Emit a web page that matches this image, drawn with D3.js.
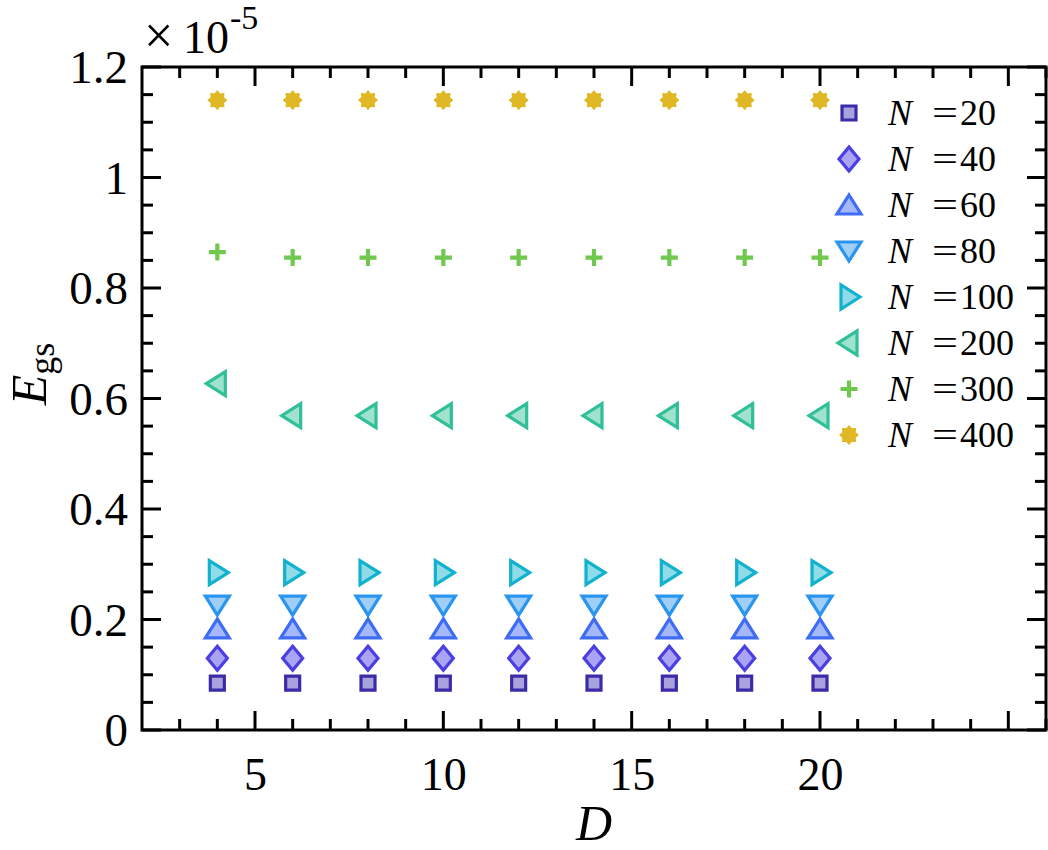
<!DOCTYPE html>
<html><head><meta charset="utf-8">
<script src="https://cdn.jsdelivr.net/npm/d3@7"></script>
<style>body{margin:0;background:#fff}svg{display:block}text{font-family:"Liberation Serif","Times New Roman",serif;fill:#000}</style>
</head><body>
<script>
const dValues = [4, 6, 8, 10, 12, 14, 16, 18, 20];
const seriesNames = ["20", "40", "60", "80", "100", "200", "300", "400"];
const e20  = [0.085, 0.085, 0.085, 0.085, 0.085, 0.085, 0.085, 0.085, 0.085];
const e40  = [0.130, 0.130, 0.130, 0.130, 0.130, 0.130, 0.130, 0.130, 0.130];
const e60  = [0.183, 0.183, 0.183, 0.183, 0.183, 0.183, 0.183, 0.183, 0.183];
const e80  = [0.226, 0.226, 0.226, 0.226, 0.226, 0.226, 0.226, 0.226, 0.226];
const e100 = [0.285, 0.285, 0.285, 0.285, 0.285, 0.285, 0.285, 0.285, 0.285];
const e200 = [0.627, 0.569, 0.569, 0.569, 0.569, 0.569, 0.569, 0.569, 0.569];
const e300 = [0.865, 0.855, 0.855, 0.855, 0.855, 0.855, 0.855, 0.855, 0.855];
const e400 = [1.140, 1.140, 1.140, 1.140, 1.140, 1.140, 1.140, 1.140, 1.140];
const allSeries = [e20, e40, e60, e80, e100, e200, e300, e400];
const xTickLabels = [5, 10, 15, 20];
const yTickLabels = ["0", "0.2", "0.4", "0.6", "0.8", "1", "1.2"];
const yTickValues = [0, 0.2, 0.4, 0.6, 0.8, 1.0, 1.2];

const colors = ["#3b2ba8", "#4a3fe3", "#3f6cf5", "#2a95ee", "#12b2cf", "#30bf98", "#70c94e", "#e0b825"];
const fills  = ["#a9a3dd", "#a9a4f3", "#a4b8fa", "#9fcff7", "#90dbe8", "#9fe2cd", "#70c94e", "#e0b825"];
const shapes = ["square", "diamond", "up", "down", "right", "left", "plus", "star"];

const W = 1048, H = 850;
const L = 142, R = 1046, T = 67, B = 730;
const svg = d3.select("body").append("svg").attr("width", W).attr("height", H);
const x = d3.scaleLinear().domain([2, 26]).range([L, R]);
const y = d3.scaleLinear().domain([0, 1.2]).range([B, T]);

function shapePath(s) {
  switch (s) {
    case "square": return "M-7,-7H7V7H-7Z";
    case "diamond": return "M0,-12L10,0L0,12L-10,0Z";
    case "up": return "M0,-10L12,9H-12Z";
    case "down": return "M0,10L12,-9H-12Z";
    case "right": return "M11,0L-8,12V-12Z";
    case "left": return "M-11,0L8,12V-12Z";
    case "plus": return "M-8.5,0H8.5M0,-8.5V8.5";
    case "star": {
      let p = [];
      for (let i = 0; i < 16; i++) {
        const r = i % 2 === 0 ? 9 : 6.4;
        const a = Math.PI * i / 8 - Math.PI / 2;
        p.push([r * Math.cos(a), r * Math.sin(a)]);
      }
      return "M" + p.map(q => q[0].toFixed(2) + "," + q[1].toFixed(2)).join("L") + "Z";
    }
  }
}
function drawMarker(g, i, cx, cy) {
  const s = shapes[i];
  const m = g.append("path").attr("d", shapePath(s)).attr("transform", `translate(${cx},${cy})`);
  if (s === "plus") m.attr("fill", "none").attr("stroke", colors[i]).attr("stroke-width", 4.2);
  else if (s === "star") m.attr("fill", colors[i]).attr("stroke", colors[i]).attr("stroke-width", 1.5).attr("stroke-linejoin", "round");
  else m.attr("fill", fills[i]).attr("stroke", colors[i]).attr("stroke-width", 3.2).attr("stroke-linejoin", "miter");
}

// Data markers
const gData = svg.append("g");
allSeries.forEach((vals, i) => {
  vals.forEach((v, j) => drawMarker(gData, i, x(dValues[j]), y(v)));
});

// Axes with inward ticks on all four sides
const xMajor = [5, 10, 15, 20, 25];
const xMinor = d3.range(3, 27).filter(v => v % 5 !== 0);
const yMinor = d3.range(1, 24).map(k => k * 0.05).filter((v, k) => (k + 1) % 4 !== 0);
const axG = svg.append("g").attr("stroke", "#000").attr("stroke-width", 3);
function ticks(vals, len, isX) {
  vals.forEach(v => {
    if (isX) {
      const px = x(v);
      axG.append("line").attr("x1", px).attr("x2", px).attr("y1", B).attr("y2", B - len);
      axG.append("line").attr("x1", px).attr("x2", px).attr("y1", T).attr("y2", T + len);
    } else {
      const py = y(v);
      axG.append("line").attr("y1", py).attr("y2", py).attr("x1", L).attr("x2", L + len);
      axG.append("line").attr("y1", py).attr("y2", py).attr("x1", R).attr("x2", R - len);
    }
  });
}
ticks(xMajor, 19, true);
ticks(xMinor, 11, true);
ticks(yTickValues, 19, false);
ticks(yMinor, 11, false);
axG.append("rect").attr("x", L).attr("y", T).attr("width", R - L).attr("height", B - T).attr("fill", "none");

// Tick labels
const xAxisLbl = d3.axisBottom(x).tickValues(xTickLabels).tickSize(0).tickPadding(0);
const gx = svg.append("g").attr("transform", `translate(0,${B})`).call(xAxisLbl);
gx.select(".domain").remove();
gx.selectAll("text").attr("font-size", 46).attr("font-family", "Liberation Serif").attr("fill", "#000").attr("dy", null).attr("y", 60);

const yAxisLbl = d3.axisLeft(y).tickValues(yTickValues).tickFormat((d, i) => yTickLabels[i]).tickSize(0).tickPadding(0);
const gy = svg.append("g").attr("transform", `translate(${L},0)`).call(yAxisLbl);
gy.select(".domain").remove();
gy.selectAll("text").attr("font-size", 47).attr("font-family", "Liberation Serif").attr("fill", "#000").attr("x", -14).attr("dy", "0.34em");

// Axis titles
svg.append("text").attr("x", (L + R) / 2).attr("y", 840).attr("text-anchor", "middle").attr("font-size", 50).attr("font-style", "italic").text("D");
const yl = svg.append("text").attr("transform", `translate(46,374) rotate(-90)`).attr("text-anchor", "middle").attr("font-size", 50);
yl.append("tspan").attr("font-style", "italic").text("E");
yl.append("tspan").attr("font-size", 36).attr("dy", 8).text("gs");

// Exponent
const ex = svg.append("text").attr("y", 53).attr("font-size", 46);
ex.append("tspan").attr("x", 144).attr("font-size", 52).text("×");
ex.append("tspan").attr("x", 183).text("10");
ex.append("tspan").attr("x", 230).attr("font-size", 34).attr("dy", -24).text("-5");

// Legend
const legG = svg.append("g");
seriesNames.forEach((n, i) => {
  const cy = 113 + i * 46;
  drawMarker(legG, i, 849, cy);
  const t = legG.append("text").attr("x", 888).attr("y", cy + 12).attr("font-size", 36);
  t.append("tspan").attr("font-style", "italic").text("N");
  t.append("tspan").attr("x", 932).attr("textLength", 26).attr("lengthAdjust", "spacingAndGlyphs").text("=");
  t.append("tspan").attr("x", 960).text(n);
});
</script>
</body></html>
